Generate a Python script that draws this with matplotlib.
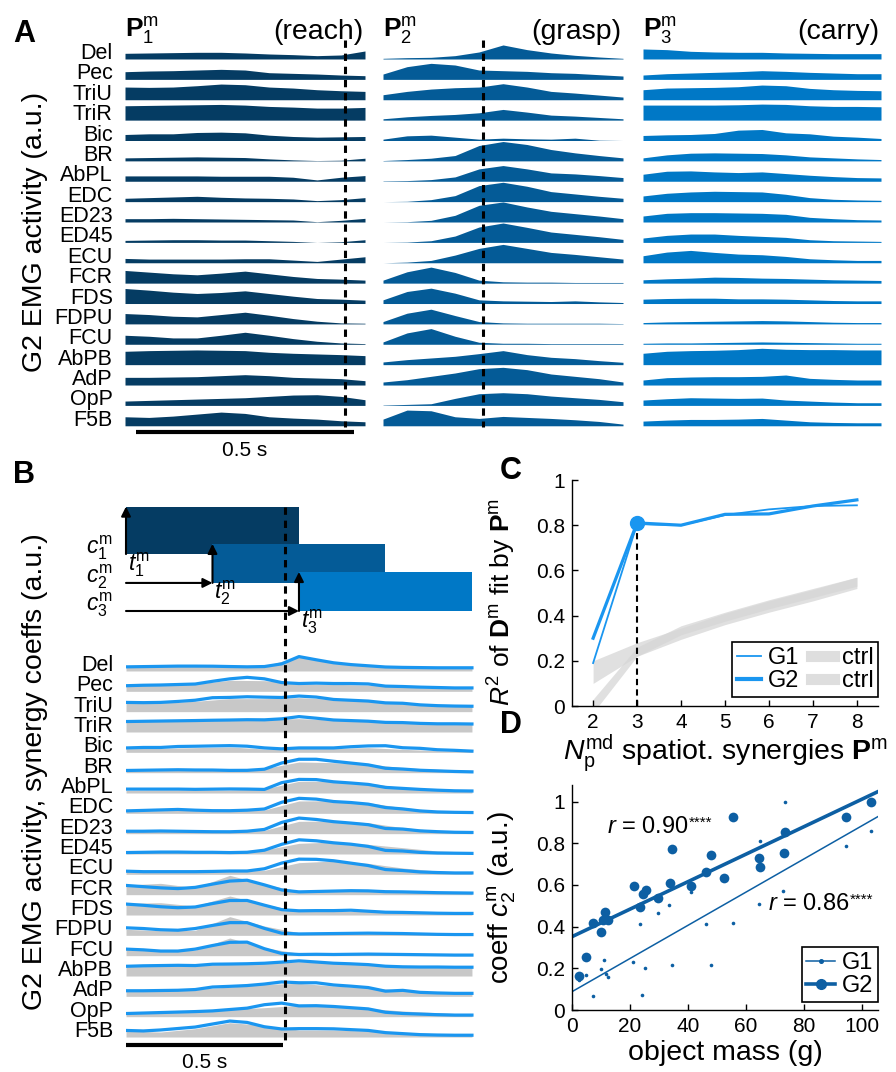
import numpy as np
import matplotlib.pyplot as plt
from matplotlib.patches import Rectangle
from matplotlib.lines import Line2D

plt.rcParams['font.family'] = ['Liberation Sans', 'DejaVu Sans']
plt.rcParams['mathtext.fontset'] = 'custom'
plt.rcParams['mathtext.rm'] = 'Liberation Sans'
plt.rcParams['mathtext.it'] = 'Liberation Sans:italic'
plt.rcParams['mathtext.bf'] = 'Liberation Sans:bold'

muscles = ['Del', 'Pec', 'TriU', 'TriR', 'Bic', 'BR', 'AbPL', 'EDC', 'ED23', 'ED45',
           'ECU', 'FCR', 'FDS', 'FDPU', 'FCU', 'AbPB', 'AdP', 'OpP', 'F5B']

# synergy timing (s)
dur = 0.55
onsets = [0.0, 0.275, 0.55]
coefs = [0.73, 0.6, 0.6]
t_contact = 0.505

# spatiotemporal synergies (a.u.), 11 samples over the synergy duration
reach = [
    [17, 18, 19, 20, 20, 18, 15, 13, 10, 12, 24],
    [23, 25, 26, 28, 30, 28, 20, 18, 16, 13, 11],
    [38, 37, 38, 42, 47, 45, 38, 35, 30, 27, 25],
    [43, 44, 45, 46, 47, 45, 41, 39, 36, 36, 38],
    [18, 20, 20, 24, 25, 23, 16, 12, 10, 11, 12],
    [9, 10, 11, 12, 11, 10, 6, 3, 1, 2, 8],
    [16, 16, 16, 16, 15, 15, 15, 12, 4, 12, 17],
    [10, 12, 14, 16, 13, 11, 10, 8, 3, 6, 12],
    [10, 10, 11, 10, 9, 8, 7, 6, 1, 5, 11],
    [6, 7, 8, 8, 7, 7, 5, 3, 0, 2, 8],
    [13, 11, 11, 11, 11, 12, 12, 8, 4, 11, 18],
    [38, 33, 28, 25, 30, 36, 28, 20, 14, 12, 9],
    [45, 40, 34, 30, 33, 38, 30, 22, 15, 13, 10],
    [31, 28, 23, 21, 28, 35, 26, 16, 8, 3, 2],
    [27, 24, 19, 19, 27, 36, 27, 17, 9, 4, 2],
    [40, 42, 43, 44, 43, 42, 37, 34, 32, 30, 27],
    [23, 23, 24, 25, 28, 31, 28, 23, 21, 19, 13],
    [13, 15, 17, 19, 21, 23, 27, 31, 32, 27, 17],
    [27, 25, 29, 35, 41, 37, 27, 23, 20, 15, 12],
]
grasp = [
    [2, 4, 5, 10, 21, 42, 28, 18, 11, 6, 2],
    [16, 38, 48, 43, 28, 26, 24, 20, 18, 14, 10],
    [15, 25, 32, 36, 38, 48, 38, 25, 20, 14, 8],
    [4, 10, 14, 17, 22, 32, 24, 15, 12, 8, 4],
    [4, 14, 16, 10, 4, 7, 5, 4, 7, 1, 0],
    [1, 4, 8, 16, 46, 58, 49, 34, 24, 16, 9],
    [1, 2, 5, 13, 37, 47, 37, 25, 22, 17, 11],
    [0, 1, 6, 18, 48, 58, 46, 30, 23, 16, 10],
    [0, 1, 5, 20, 50, 60, 45, 32, 25, 18, 10],
    [0, 1, 5, 19, 46, 58, 45, 31, 24, 17, 9],
    [0, 2, 7, 23, 43, 55, 43, 31, 25, 18, 11],
    [9, 34, 48, 32, 9, 4, 3, 3, 2, 2, 2],
    [11, 36, 46, 31, 11, 8, 7, 6, 8, 5, 3],
    [7, 32, 44, 25, 7, 3, 2, 2, 2, 2, 1],
    [7, 34, 47, 24, 6, 3, 3, 2, 2, 2, 2],
    [8, 15, 20, 25, 33, 42, 30, 22, 18, 12, 7],
    [9, 16, 26, 36, 49, 53, 46, 33, 26, 19, 9],
    [1, 3, 5, 21, 35, 38, 35, 28, 23, 18, 11],
    [20, 47, 45, 27, 22, 28, 25, 22, 18, 13, 5],
]
carry = [
    [30, 28, 23, 21, 20, 20, 18, 17, 16, 16, 16],
    [13, 17, 19, 21, 23, 26, 24, 21, 19, 17, 17],
    [30, 35, 36, 37, 39, 44, 42, 34, 30, 28, 27],
    [45, 45, 45, 45, 46, 48, 47, 43, 41, 41, 40],
    [15, 17, 18, 21, 31, 33, 23, 20, 13, 10, 6],
    [9, 18, 23, 24, 23, 22, 18, 12, 9, 6, 4],
    [21, 30, 31, 28, 26, 28, 23, 18, 14, 11, 10],
    [17, 25, 29, 31, 30, 29, 22, 12, 7, 5, 4],
    [18, 26, 28, 28, 27, 26, 23, 14, 10, 7, 6],
    [13, 21, 25, 25, 21, 18, 15, 8, 5, 4, 3],
    [21, 32, 37, 31, 26, 24, 19, 12, 9, 7, 7],
    [10, 13, 15, 18, 17, 15, 14, 12, 10, 9, 8],
    [13, 15, 16, 16, 14, 14, 13, 11, 9, 8, 8],
    [4, 6, 7, 8, 9, 10, 9, 7, 5, 4, 4],
    [3, 4, 4, 5, 6, 7, 6, 5, 4, 3, 3],
    [34, 40, 42, 43, 45, 49, 46, 45, 45, 44, 44],
    [15, 22, 24, 25, 25, 26, 30, 20, 17, 15, 15],
    [16, 20, 23, 22, 21, 22, 16, 13, 10, 8, 8],
    [14, 17, 19, 19, 20, 22, 17, 12, 10, 9, 9],
]

# recorded EMG of one trial (a.u.), 11 samples over 0..1.1 s
emg = [
    [12, 13, 14, 15, 15, 43, 25, 18, 11, 10, 10],
    [20, 21, 22, 33, 32, 23, 21, 19, 13, 9, 8],
    [30, 27, 31, 39, 39, 42, 37, 34, 25, 19, 17],
    [32, 33, 33, 36, 38, 40, 36, 33, 28, 25, 24],
    [11, 12, 14, 16, 10, 12, 12, 14, 9, 5, 3],
    [5, 6, 7, 7, 12, 32, 30, 26, 15, 10, 7],
    [8, 9, 9, 9, 12, 35, 35, 30, 16, 10, 5],
    [7, 8, 9, 8, 10, 37, 38, 32, 17, 7, 4],
    [7, 8, 8, 8, 10, 37, 38, 33, 18, 9, 6],
    [6, 7, 8, 8, 12, 32, 36, 29, 19, 9, 6],
    [10, 9, 9, 9, 12, 35, 40, 33, 19, 10, 5],
    [29, 34, 21, 58, 31, 11, 11, 11, 9, 6, 4],
    [35, 37, 27, 57, 32, 12, 11, 11, 9, 6, 4],
    [18, 14, 15, 56, 28, 8, 7, 7, 7, 6, 5],
    [19, 14, 17, 53, 24, 7, 6, 6, 5, 4, 3],
    [30, 31, 32, 35, 38, 43, 40, 35, 30, 28, 27],
    [19, 20, 21, 28, 36, 39, 31, 26, 18, 13, 11],
    [10, 12, 15, 22, 27, 34, 30, 25, 17, 12, 7],
    [18, 15, 25, 43, 35, 21, 21, 18, 13, 10, 8],
]

# panel C: R^2 vs number of synergies
n_syn = [2, 3, 4, 5, 6, 7, 8]
r2_g1 = [0.19, 0.805, 0.80, 0.845, 0.87, 0.885, 0.888]
r2_g2 = [0.30, 0.81, 0.80, 0.848, 0.85, 0.885, 0.912]
ctrl1_mean = [0.15, 0.25, 0.32, 0.385, 0.44, 0.49, 0.545]
ctrl1_sd = [0.05, 0.03, 0.025, 0.025, 0.025, 0.025, 0.025]
ctrl2_mean = [0.0, 0.24, 0.335, 0.395, 0.45, 0.50, 0.55]
ctrl2_sd = [0.03, 0.02, 0.02, 0.02, 0.02, 0.02, 0.02]

# panel D: coefficient c2 vs object mass
mass_g2 = [2.3, 4.8, 7.2, 10.0, 11.5, 10.8, 12.4, 21.3, 23.6, 24.5, 25.4, 29.7, 33.7,
           34.5, 41.1, 46.2, 48.0, 52.3, 55.4, 64.4, 64.7, 73.0, 73.6, 94.6, 103.2]
c2_g2 = [0.163, 0.256, 0.416, 0.376, 0.469, 0.43, 0.43, 0.597, 0.496, 0.555, 0.576,
         0.536, 0.608, 0.773, 0.597, 0.661, 0.744, 0.632, 0.925, 0.728, 0.688, 0.755,
         0.853, 0.928, 1.0]
mass_g1 = [4.8, 2.3, 7.2, 10.0, 10.9, 11.8, 12.3, 21.0, 23.6, 24.1, 25.3, 29.7, 33.6,
           34.5, 41.1, 46.2, 48.0, 55.4, 64.4, 64.7, 72.8, 73.6, 94.6, 103.2]
c2_g1 = [0.168, 0.144, 0.067, 0.195, 0.24, 0.173, 0.16, 0.232, 0.413, 0.072, 0.2,
         0.464, 0.504, 0.216, 0.565, 0.413, 0.216, 0.416, 0.509, 0.811, 0.573, 1.0,
         0.789, 0.861]

syn_colors = ['#053c63', '#045b97', '#0078c6']
fit_blue = '#1a96f0'
d_blue = '#0d5fa3'

W, H = 896, 1072
fig = plt.figure(figsize=(W / 100, H / 100), dpi=100)


def px_axes(x0, y0, x1, y1):
    return fig.add_axes([x0 / W, 1 - y1 / H, (x1 - x0) / W, (y1 - y0) / H])


dash = (0, (2.4, 1.9))

# ---------------- panel A ----------------
t_syn = np.linspace(0, dur, 11)
cols_px = [(125, 365), (383, 623), (643, 881)]
names = ['(reach)', '(grasp)', '(carry)']
for k, syn in enumerate([reach, grasp, carry]):
    ax = px_axes(cols_px[k][0], 0, cols_px[k][1], 470)
    ax.set_xlim(0, dur)
    ax.set_ylim(-20.17, 2.895)
    ax.axis('off')
    for i in range(len(muscles)):
        ax.fill_between(t_syn, -i, -i + np.array(syn[i]) / 61, color=syn_colors[k], lw=0)
    ax.text(0, 1.08, r'$\mathbf{P}_%d^\mathrm{m}$' % (k + 1), fontsize=19,
            ha='left', va='baseline')
    ax.text(dur - 0.004, 0.98, names[k], fontsize=20.5, ha='right', va='baseline')
    if k < 2:
        xd = t_contact - onsets[k]
        ax.plot([xd, xd], [0.93, -18.05], color='k', ls=dash, lw=2.2)
    if k == 0:
        for i, m in enumerate(muscles):
            ax.text(-0.028, -i, m, fontsize=15.5, ha='right', va='baseline')
        ax.plot([0.025, 0.525], [-18.3, -18.3], color='k', lw=3, solid_capstyle='butt')
        ax.text(0.275, -19.2, '0.5 s', fontsize=15, ha='center', va='center')

# ---------------- panel B ----------------
axb = px_axes(126, 490, 480, 1072)
axb.set_xlim(0, 354 / 314.5)
axb.set_ylim(-19.72, 8.90)
axb.axis('off')

step = dur / 10
on_idx = [int(round(o / step)) for o in onsets]
t_fine = np.linspace(0, 2 * dur, 21)
t_emg = np.linspace(0, 2 * dur, 11)
for i, m in enumerate(muscles):
    # reconstruction: sum of time-shifted synergies scaled by their coefficients
    blue = np.zeros(21)
    for k, syn in enumerate([reach, grasp, carry]):
        for j in range(21):
            s = j - on_idx[k]
            if 0 <= s < 10 or (s == 10 and j == 20):
                blue[j] += coefs[k] * syn[i][s]
    axb.fill_between(t_emg, -i, -i + np.array(emg[i]) / 61, color='#c8c8c8', lw=0)
    axb.plot(t_fine, -i + blue / 61, color=fit_blue, lw=2.3, solid_joinstyle='round')
    axb.text(-0.041, -i, m, fontsize=15.5, ha='right', va='baseline')

box_bottom = [5.75, 4.33, 2.95]
for k in range(3):
    h = coefs[k] * 3.2
    axb.add_patch(Rectangle((onsets[k], box_bottom[k]), dur, h, color=syn_colors[k], lw=0))
    axb.annotate('', xy=(onsets[k], box_bottom[k] + h), xytext=(onsets[k], box_bottom[k]),
                 arrowprops=dict(arrowstyle='-|>', lw=1.5, color='k', mutation_scale=14,
                                 shrinkA=0, shrinkB=0))
    if k > 0:
        axb.annotate('', xy=(onsets[k], box_bottom[k]), xytext=(0, box_bottom[k]),
                     arrowprops=dict(arrowstyle='-|>', lw=1.5, color='k', mutation_scale=14,
                                     shrinkA=0, shrinkB=0))
c_y = [6.05, 4.62, 3.25]
t_y = [5.21, 3.84, 2.41]
for k in range(3):
    axb.text(-0.041, c_y[k], r'$c_%d^\mathrm{m}$' % (k + 1), fontsize=16.5,
             ha='right', va='center')
    axb.text(onsets[k] + 0.006, t_y[k], r'$t_%d^\mathrm{m}$' % (k + 1), fontsize=16.5,
             ha='left', va='center')

axb.plot([t_contact, t_contact], [8.07, -18.15], color='k', ls=dash, lw=2.2, zorder=5)
axb.plot([0, 0.5], [-18.4, -18.4], color='k', lw=3, solid_capstyle='butt')
axb.text(0.25, -19.25, '0.5 s', fontsize=15, ha='center', va='center')

# ---------------- panel C ----------------
axc = px_axes(572, 480, 878, 706)
for mean, sd in [(ctrl1_mean, ctrl1_sd), (ctrl2_mean, ctrl2_sd)]:
    mean = np.array(mean)
    sd = np.array(sd)
    axc.fill_between(n_syn, mean - sd, mean + sd, color='#d6d6d6', alpha=0.75, lw=0)
axc.plot(n_syn, r2_g1, color=fit_blue, lw=1.3)
axc.plot(n_syn, r2_g2, color=fit_blue, lw=2.3)
axc.plot([3, 3], [0, r2_g2[1]], color='k', ls=(0, (3, 2)), lw=1.5)
axc.plot([3], [r2_g2[1]], 'o', color=fit_blue, ms=10)
axc.set_xlim(1.52, 8.48)
axc.set_ylim(0, 1)
axc.set_xticks(n_syn)
axc.set_yticks([0, 0.2, 0.4, 0.6, 0.8, 1])
axc.set_yticklabels(['0', '0.2', '0.4', '0.6', '0.8', '1'])
axc.set_xlabel(r'$N_\mathrm{p}^\mathrm{md}$ spatiot. synergies $\mathbf{P}^\mathrm{m}$',
               fontsize=20.5, labelpad=0)
axc.set_ylabel(r'$R^2$ of $\mathbf{D}^\mathrm{m}$ fit by $\mathbf{P}^\mathrm{m}$', fontsize=19)
axc.yaxis.set_label_coords(-0.175, 0.46)
hc = [Line2D([], [], color=fit_blue, lw=1.3), Line2D([], [], color=fit_blue, lw=3),
      Line2D([], [], color='#dedede', lw=8), Line2D([], [], color='#dedede', lw=8)]
legc = axc.legend(hc, ['G1', 'G2', 'ctrl', 'ctrl'], ncol=2, loc='lower right',
                  bbox_to_anchor=(1.0, 0.04), borderaxespad=0, fontsize=17,
                  handlelength=1.0, handletextpad=0.3, columnspacing=0.5,
                  labelspacing=0.05, borderpad=0.2, fancybox=False, framealpha=1)
legc.get_frame().set_edgecolor('k')
legc.get_frame().set_linewidth(1.2)

# ---------------- panel D ----------------
axd = px_axes(572, 785, 878, 1010)
xs = np.array([0, 105.5])
p2 = np.polyfit(mass_g2, c2_g2, 1)
p1 = np.polyfit(mass_g1, c2_g1, 1)
axd.plot(xs, np.polyval(p2, xs), color=d_blue, lw=2.6)
axd.plot(xs, np.polyval(p1, xs), color=d_blue, lw=1.1)
axd.plot(mass_g2, c2_g2, 'o', color=d_blue, ms=7, mew=0)
axd.plot(mass_g1, c2_g1, 'o', color=d_blue, ms=2.6, mew=0)
axd.set_xlim(0, 105.5)
axd.set_ylim(0, 1.08)
axd.set_xticks([0, 20, 40, 60, 80, 100])
axd.set_yticks([0, 0.2, 0.4, 0.6, 0.8, 1])
axd.set_yticklabels(['0', '0.2', '0.4', '0.6', '0.8', '1'])
axd.set_xlabel('object mass (g)', fontsize=20.5, labelpad=3)
axd.set_ylabel(r'coeff $c_2^\mathrm{m}$ (a.u.)', fontsize=20)
axd.yaxis.set_label_coords(-0.175, 0.5)
for x, y, s in [(12.1, 0.88, '0.90'), (67.6, 0.51, '0.86')]:
    txt = axd.text(x, y, r'$r$ = ' + s, fontsize=17, ha='left', va='center')
    axd.annotate('****', xy=(1.0, 1.0), xycoords=txt, fontsize=11,
                 ha='left', va='top')
hd = [Line2D([], [], color=d_blue, lw=1.1, marker='o', ms=2.6),
      Line2D([], [], color=d_blue, lw=2.6, marker='o', ms=7)]
legd = axd.legend(hd, ['G1', 'G2'], loc='lower right', bbox_to_anchor=(1.0, 0.036),
                  borderaxespad=0, fontsize=17, handlelength=1.2, handletextpad=0.3,
                  labelspacing=0.05, borderpad=0.2, fancybox=False, framealpha=1)
legd.get_frame().set_edgecolor('k')
legd.get_frame().set_linewidth(1.2)

for ax in (axc, axd):
    for sp in ('top', 'right'):
        ax.spines[sp].set_visible(False)
    ax.spines['left'].set_linewidth(1.0)
    ax.spines['bottom'].set_linewidth(1.0)
    ax.tick_params(direction='in', length=4, width=1.0, labelsize=15, pad=5)

# axis labels and panel letters
fig.text(35 / W, 1 - 232 / H, 'G2 EMG activity (a.u.)', fontsize=20.5, rotation=90,
         ha='center', va='center')
fig.text(35 / W, 1 - 772 / H, 'G2 EMG activity, synergy coeffs (a.u.)', fontsize=20.5,
         rotation=90, ha='center', va='center')
for letter, x, y in [('A', 13, 42), ('B', 13, 483), ('C', 500, 479), ('D', 500, 733)]:
    fig.text(x / W, 1 - y / H, letter, fontsize=22, fontweight='bold',
             ha='left', va='baseline')

fig.savefig('out.png', dpi=100)
